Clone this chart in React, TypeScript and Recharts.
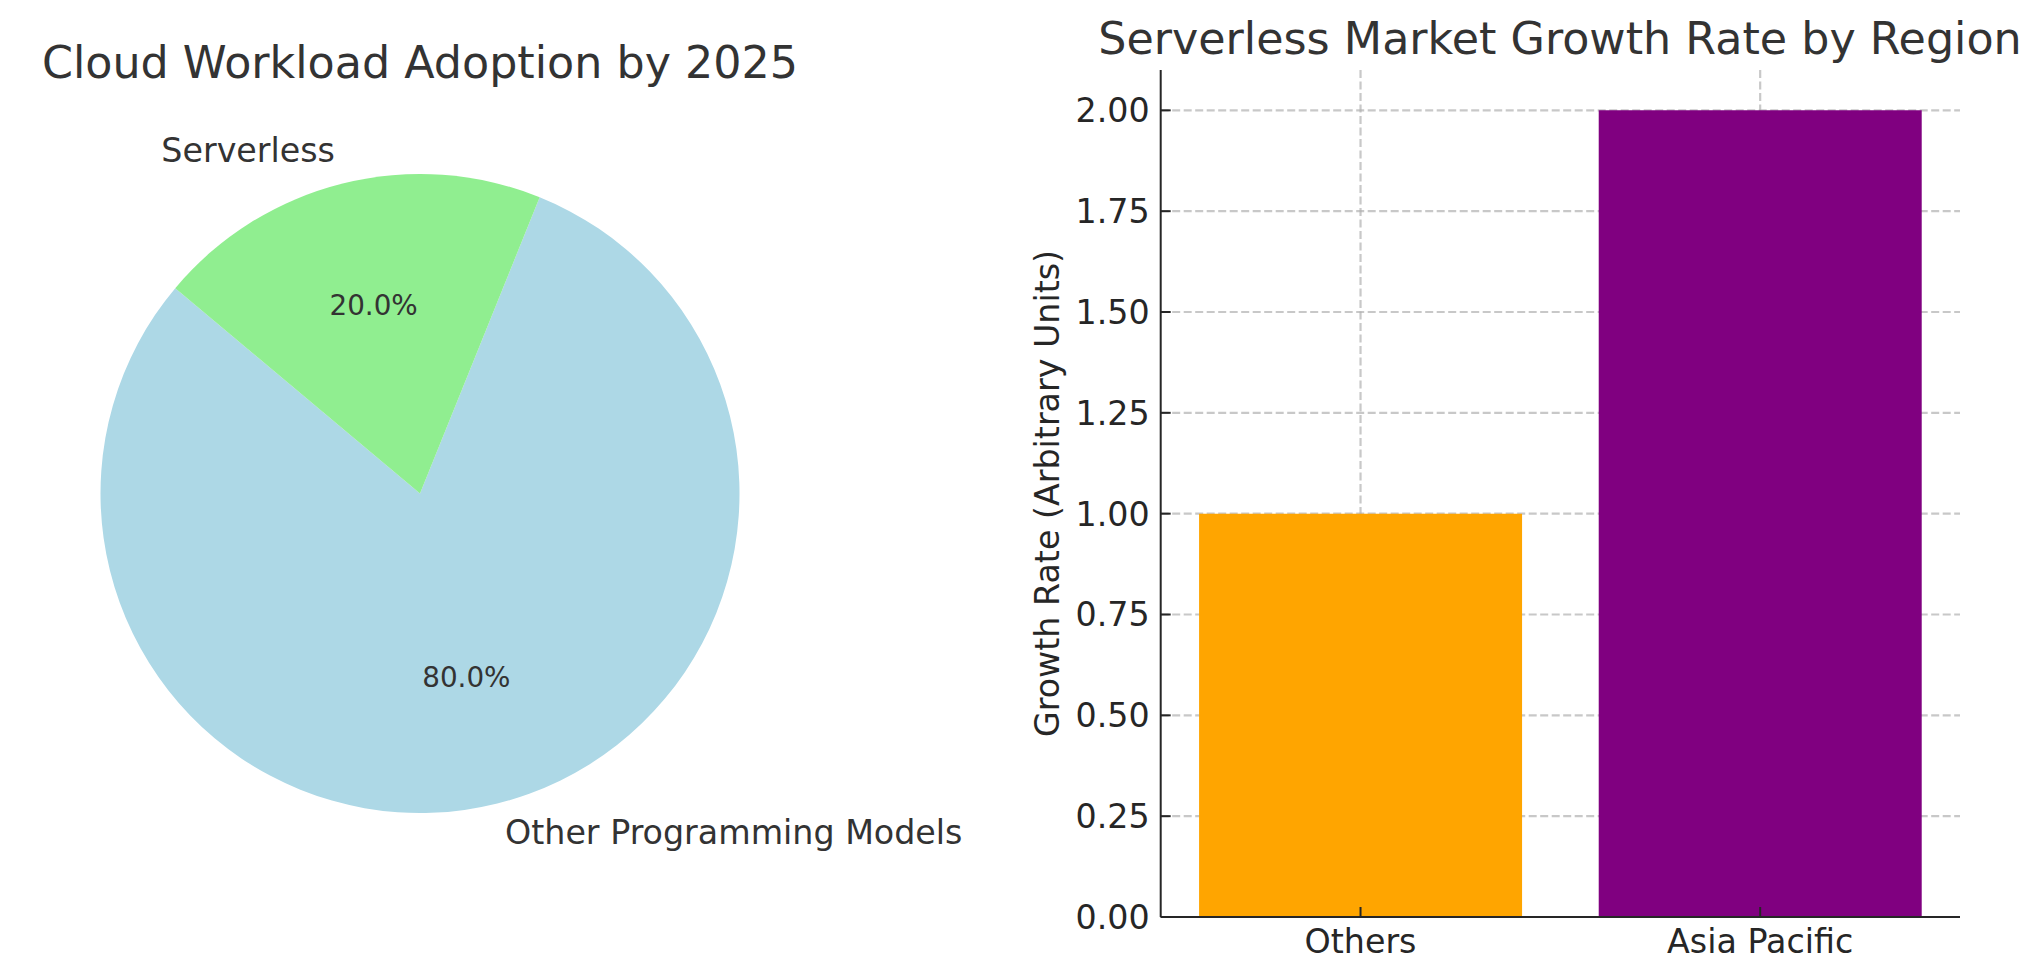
import { Bar, BarChart, CartesianGrid, Cell, Pie, PieChart, XAxis, YAxis } from "recharts";

// pie: share of workloads by 2025
const adoptionNames = ["Other Programming Models", "Serverless"];
const adoptionShares = [80, 20];
const adoptionColors = ["#ADD8E6", "#90EE90"];

// bars: growth rate per region
const regions = ["Others", "Asia Pacific"];
const growthRates = [1.0, 2.0];
const regionColors = ["#FFA500", "#800080"];
const growthTicks = [0, 0.25, 0.5, 0.75, 1.0, 1.25, 1.5, 1.75, 2.0];

const adoptionData = adoptionNames.map((name, i) => ({ name, value: adoptionShares[i] }));
const growthData = regions.map((region, i) => ({ region, rate: growthRates[i] }));

const FONT = "'DejaVu Sans', 'Liberation Sans', sans-serif";
const TEXT = "#333333";
const INK = "#262626";
const RAD = Math.PI / 180;
const TICK_GAP_X = 12;
const TICK_GAP_Y = 11;
const TICK_LEN = 10;
const LABEL_SIZE = 33.3;
const TITLE_SIZE = 44.4;

function PieLabel(props: any) {
  const { cx, cy, midAngle, outerRadius, percent, name } = props;
  const cos = Math.cos(-midAngle * RAD);
  const sin = Math.sin(-midAngle * RAD);
  const lx = cx + outerRadius * 1.1 * cos;
  const ly = cy + outerRadius * 1.1 * sin;
  const px = cx + outerRadius * 0.6 * cos;
  const py = cy + outerRadius * 0.6 * sin;
  return (
    <g fontFamily={FONT}>
      <text x={lx} y={ly} dy="0.28em" textAnchor={lx > cx ? "start" : "end"} fontSize={LABEL_SIZE} fill={TEXT}>
        {name}
      </text>
      <text x={px} y={py} dy="0.28em" textAnchor="middle" fontSize={27.8} fill={TEXT}>
        {`${(percent * 100).toFixed(1)}%`}
      </text>
    </g>
  );
}

function XTick(props: any) {
  const { x, y, payload } = props;
  const axisY = y - TICK_GAP_X;
  return (
    <g>
      <line x1={x} x2={x} y1={axisY} y2={axisY - TICK_LEN} stroke={INK} strokeWidth={2} />
      <text x={x} y={y} dy="0.73em" textAnchor="middle" fontSize={LABEL_SIZE} fontFamily={FONT} fill={INK}>
        {payload.value}
      </text>
    </g>
  );
}

function YTick(props: any) {
  const { x, y, payload } = props;
  const axisX = x + TICK_GAP_Y;
  return (
    <g>
      <line x1={axisX} x2={axisX + TICK_LEN} y1={y} y2={y} stroke={INK} strokeWidth={2} />
      <text x={x} y={y} dy="0.36em" textAnchor="end" fontSize={LABEL_SIZE} fontFamily={FONT} fill={INK}>
        {Number(payload.value).toFixed(2)}
      </text>
    </g>
  );
}

export default function App() {
  return (
    <div
      style={{
        position: "absolute",
        left: 0,
        top: 0,
        width: 2043,
        height: 980,
        background: "#ffffff",
        fontFamily: FONT,
      }}
    >
      <div style={{ position: "absolute", left: 0, top: 0 }}>
        <PieChart width={1000} height={980} margin={{ top: 0, right: 0, bottom: 0, left: 0 }}>
          <Pie
            data={adoptionData}
            dataKey="value"
            nameKey="name"
            cx={420}
            cy={493.5}
            outerRadius={319.5}
            startAngle={140}
            endAngle={500}
            stroke="none"
            label={PieLabel}
            labelLine={false}
            isAnimationActive={false}
          >
            {adoptionData.map((d, i) => (
              <Cell key={d.name} fill={adoptionColors[i]} />
            ))}
          </Pie>
        </PieChart>
      </div>

      <div style={{ position: "absolute", left: 1000, top: 0 }}>
        <BarChart
          width={1043}
          height={980}
          data={growthData}
          margin={{ top: 70, right: 83, bottom: 0, left: 0 }}
          barCategoryGap="9.6%"
        >
          <Bar dataKey="rate" isAnimationActive={false}>
            {growthData.map((d, i) => (
              <Cell key={d.region} fill={regionColors[i]} />
            ))}
          </Bar>
          <CartesianGrid
            syncWithTicks
            stroke="#b0b0b0"
            strokeOpacity={0.7}
            strokeWidth={2.2}
            strokeDasharray="8 3.5"
            fill="none"
          />
          <XAxis
            dataKey="region"
            height={63}
            interval={0}
            axisLine={{ stroke: INK, strokeWidth: 2 }}
            tickLine={false}
            tickSize={0}
            tickMargin={TICK_GAP_X}
            tick={<XTick />}
          />
          <YAxis
            type="number"
            domain={[0, 2.1]}
            ticks={growthTicks}
            width={160.7}
            axisLine={{ stroke: INK, strokeWidth: 2 }}
            tickLine={false}
            tickSize={0}
            tickMargin={TICK_GAP_Y}
            tick={<YTick />}
            label={{
              value: "Growth Rate (Arbitrary Units)",
              angle: -90,
              position: "insideLeft",
              offset: 47,
              fontSize: LABEL_SIZE,
              fontFamily: FONT,
              fill: INK,
              style: { textAnchor: "middle" },
            }}
          />
        </BarChart>
      </div>

      <svg
        width={2043}
        height={980}
        style={{ position: "absolute", left: 0, top: 0, pointerEvents: "none" }}
      >
        <text x={420} y={78} textAnchor="middle" fontSize={TITLE_SIZE} fontFamily={FONT} fill={TEXT}>
          Cloud Workload Adoption by 2025
        </text>
        <text x={1560} y={54} textAnchor="middle" fontSize={TITLE_SIZE} fontFamily={FONT} fill={TEXT}>
          Serverless Market Growth Rate by Region
        </text>
      </svg>
    </div>
  );
}
